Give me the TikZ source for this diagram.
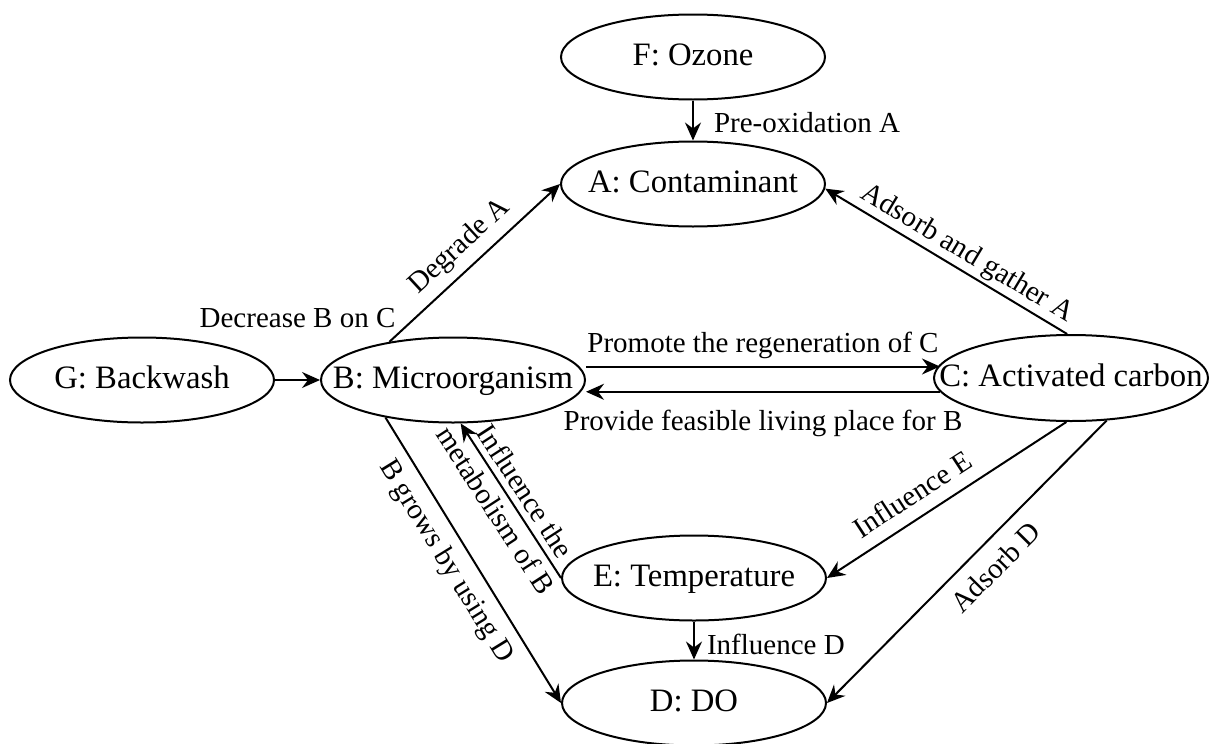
\documentclass[tikz,border=0pt]{standalone}
\usepackage{fontspec}
\setmainfont{Liberation Serif}
\usetikzlibrary{shapes.geometric,arrows.meta}
\begin{document}
\begin{tikzpicture}[x=1pt,y=-1pt,
  state/.style={ellipse, draw, line width=2pt, minimum width=264pt,
    minimum height=85pt, inner sep=0pt,
    font=\fontsize{32.7}{39}\selectfont, text height=23pt, text depth=7pt},
  link/.style={line width=2pt, -{Stealth[length=18pt,width=16pt,inset=6pt]}},
  lbl/.style={inner sep=0pt, font=\fontsize{29}{35}\selectfont,
    text height=20pt, text depth=6pt},
  lbltwo/.style={inner sep=0pt, font=\fontsize{29}{35}\selectfont, align=center},
]
\useasboundingbox (0,0) rectangle (1210,744);

% factors
\node[state] (F) at (693,57)  {\makebox[0pt]{F: Ozone}};
\node[state] (A) at (693,184) {\makebox[0pt]{A: Contaminant}};
\node[state] (G) at (142,380) {\makebox[0pt]{G: Backwash}};
\node[state] (B) at (453,380) {\makebox[0pt]{B: Microorganism}};
\node[state, minimum width=274pt, minimum height=86pt] (C) at (1071,378)
  {\makebox[0pt]{C: Activated carbon}};
\node[state] (E) at (694,578) {\makebox[0pt]{E: Temperature}};
\node[state] (D) at (694,703) {\makebox[0pt]{D: DO}};

% ends of the two horizontal links between B and C
\coordinate (bc) at ([yshift=13.5pt]B.east);
\coordinate (cb) at ([yshift=-13.5pt]B.east);

% relations
\draw[link] (F) -- node[lbl, right=20pt, pos=0.63] {Pre-oxidation A} (A);
\draw[link] (G) -- node[lbl, above=46pt] {Decrease B on C} (B);
\draw[link] (B.149) -- node[lbl, sloped, above=8pt] {Degrade A} (A.west);
\draw[link] (bc) -- node[lbl, above=7pt] {Promote the regeneration of C} (bc -| C.174);
\draw[link] (C.186) -- node[lbl, below=18pt] {Provide feasible living place for B} (C.186 -| cb);
\draw[link] (C.95) -- node[lbl, sloped, above=3pt, pos=0.45] {Adsorb and gather A} (A.-2);
\draw[link] (C.-96) -- node[lbl, sloped, above=7pt, pos=0.59] {Influence E} (E.east);
\draw[link] (C.-50) -- node[lbl, sloped, below=13pt, pos=0.46] {Adsorb D} (D.east);
\draw[link] (B.209) -- node[lbl, sloped, below=10pt, pos=0.46] {B grows by using D} (D.west);
\draw[link] (E.west) -- node[lbltwo, sloped, pos=0.5] {Influence the\\metabolism of B} (B.-80);
\draw[link] (E) -- node[lbl, right=12pt, pos=0.69] {Influence D} (D);
\end{tikzpicture}
\end{document}
